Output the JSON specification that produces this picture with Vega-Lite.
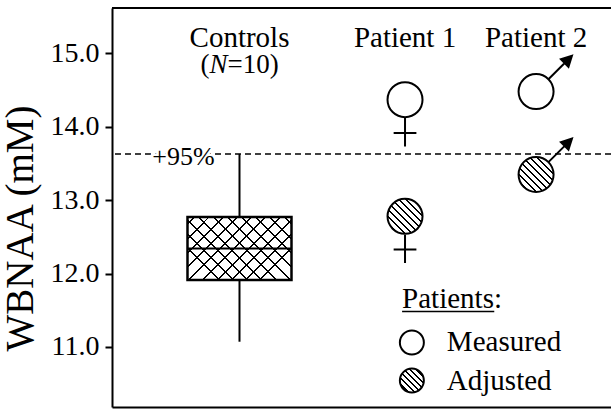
{
  "$schema": "https://vega.github.io/schema/vega-lite/v6.json",
  "width": 499,
  "height": 399,
  "autosize": "none",
  "padding": {"left": 112, "top": 8, "right": 0, "bottom": 2},
  "background": "white",
  "config": {
    "view": {"stroke": null},
    "style": {"ser": {"font": "Times New Roman"}},
    "axis": {"grid": false, "domainColor": "black", "domainWidth": 2, "tickColor": "black", "labelColor": "black", "titleColor": "black", "labelFont": "Times New Roman", "titleFont": "Times New Roman", "titleFontWeight": "normal"},
    "axisY": {"labelFontSize": 28, "tickSize": 7, "tickWidth": 2, "labelPadding": 6, "titleFontSize": 39, "titlePadding": 10, "titleY": 220},
    "axisX": {"labels": false, "ticks": false}
  },
  "datasets": {
    "controls": [{"group": "Controls", "x": 2.505, "lower": 11.07, "q1": 11.91, "median": 12.34, "q3": 12.77, "upper": 13.63}],
    "patients": [
      {"group": "Patient 1", "x": 5.89, "sex": "F", "kind": "Measured", "wbnaa": 14.37},
      {"group": "Patient 1", "x": 5.89, "sex": "F", "kind": "Adjusted", "wbnaa": 12.78},
      {"group": "Patient 2", "x": 8.57, "sex": "M", "kind": "Measured", "wbnaa": 14.48},
      {"group": "Patient 2", "x": 8.57, "sex": "M", "kind": "Adjusted", "wbnaa": 13.35}
    ],
    "titles": [
      {"text": "Controls", "x": 2.505, "y": 15.09},
      {"text": "Patient 1", "x": 5.89, "y": 15.09},
      {"text": "Patient 2", "x": 8.57, "y": 15.09}
    ],
    "subtitle": [{"x": 2.505, "y": 14.735}],
    "legendtitle": [{"text": "Patients:", "x": 5.83, "x2": 7.715, "y": 11.524}],
    "legend": [
      {"kind": "Measured", "x": 6.03, "y": 11.06},
      {"kind": "Adjusted", "x": 6.03, "y": 10.54}
    ]
  },
  "layer": [
    {
      "data": {"name": "controls"},
      "mark": {"type": "rule", "color": "black", "strokeWidth": 2},
      "encoding": {"y": {"datum": 15.62, "type": "quantitative", "scale": {"domain": [10.18, 15.62], "nice": false, "zero": false}, "title": "WBNAA (mM)"}}
    },
    {
      "data": {"name": "controls"},
      "mark": {"type": "rule", "color": "black", "strokeWidth": 1.5, "strokeDash": [6, 4]},
      "encoding": {"y": {"field": "upper", "type": "quantitative", "scale": {"domain": [10.18, 15.62], "nice": false, "zero": false}, "title": "WBNAA (mM)", "axis": {"values": [11, 12, 13, 14, 15], "format": ".1f"}}}
    },
    {
      "data": {"name": "controls"},
      "mark": {"type": "rule", "color": "black", "strokeWidth": 2},
      "encoding": {
        "x": {"field": "x", "type": "quantitative", "scale": {"domain": [0, 10], "nice": false, "zero": false}, "title": null},
        "y": {"field": "lower", "type": "quantitative", "scale": {"domain": [10.18, 15.62], "nice": false, "zero": false}, "title": "WBNAA (mM)"},
        "y2": {"field": "upper"}
      }
    },
    {
      "data": {"name": "controls"},
      "mark": {"type": "bar", "width": 104, "fill": "white", "stroke": null},
      "encoding": {
        "x": {"field": "x", "type": "quantitative", "scale": {"domain": [0, 10], "nice": false, "zero": false}, "title": null},
        "y": {"field": "q1", "type": "quantitative", "scale": {"domain": [10.18, 15.62], "nice": false, "zero": false}, "title": "WBNAA (mM)"},
        "y2": {"field": "q3"}
      }
    },
    {
      "data": {"name": "controls"},
      "mark": {"type": "bar", "width": 104, "stroke": null, "fill": {"gradient": "linear", "x1": 0, "y1": 0, "x2": 1, "y2": 0.606, "stops": [
        {"offset": 0, "color": "rgba(0,0,0,0)"},
        {"offset": 0.044, "color": "rgba(0,0,0,0)"}, {"offset": 0.044, "color": "black"}, {"offset": 0.058, "color": "black"}, {"offset": 0.058, "color": "rgba(0,0,0,0)"},
        {"offset": 0.144, "color": "rgba(0,0,0,0)"}, {"offset": 0.144, "color": "black"}, {"offset": 0.158, "color": "black"}, {"offset": 0.158, "color": "rgba(0,0,0,0)"},
        {"offset": 0.244, "color": "rgba(0,0,0,0)"}, {"offset": 0.244, "color": "black"}, {"offset": 0.258, "color": "black"}, {"offset": 0.258, "color": "rgba(0,0,0,0)"},
        {"offset": 0.344, "color": "rgba(0,0,0,0)"}, {"offset": 0.344, "color": "black"}, {"offset": 0.358, "color": "black"}, {"offset": 0.358, "color": "rgba(0,0,0,0)"},
        {"offset": 0.444, "color": "rgba(0,0,0,0)"}, {"offset": 0.444, "color": "black"}, {"offset": 0.458, "color": "black"}, {"offset": 0.458, "color": "rgba(0,0,0,0)"},
        {"offset": 0.544, "color": "rgba(0,0,0,0)"}, {"offset": 0.544, "color": "black"}, {"offset": 0.558, "color": "black"}, {"offset": 0.558, "color": "rgba(0,0,0,0)"},
        {"offset": 0.644, "color": "rgba(0,0,0,0)"}, {"offset": 0.644, "color": "black"}, {"offset": 0.658, "color": "black"}, {"offset": 0.658, "color": "rgba(0,0,0,0)"},
        {"offset": 0.744, "color": "rgba(0,0,0,0)"}, {"offset": 0.744, "color": "black"}, {"offset": 0.758, "color": "black"}, {"offset": 0.758, "color": "rgba(0,0,0,0)"},
        {"offset": 0.844, "color": "rgba(0,0,0,0)"}, {"offset": 0.844, "color": "black"}, {"offset": 0.858, "color": "black"}, {"offset": 0.858, "color": "rgba(0,0,0,0)"},
        {"offset": 0.944, "color": "rgba(0,0,0,0)"}, {"offset": 0.944, "color": "black"}, {"offset": 0.958, "color": "black"}, {"offset": 0.958, "color": "rgba(0,0,0,0)"},
        {"offset": 1, "color": "rgba(0,0,0,0)"}
      ]}},
      "encoding": {
        "x": {"field": "x", "type": "quantitative", "scale": {"domain": [0, 10], "nice": false, "zero": false}, "title": null},
        "y": {"field": "q1", "type": "quantitative", "scale": {"domain": [10.18, 15.62], "nice": false, "zero": false}, "title": "WBNAA (mM)"},
        "y2": {"field": "q3"}
      }
    },
    {
      "data": {"name": "controls"},
      "mark": {"type": "bar", "width": 104, "stroke": null, "fill": {"gradient": "linear", "x1": 1, "y1": 0, "x2": 0, "y2": 0.606, "stops": [
        {"offset": 0, "color": "rgba(0,0,0,0)"},
        {"offset": 0.044, "color": "rgba(0,0,0,0)"}, {"offset": 0.044, "color": "black"}, {"offset": 0.058, "color": "black"}, {"offset": 0.058, "color": "rgba(0,0,0,0)"},
        {"offset": 0.144, "color": "rgba(0,0,0,0)"}, {"offset": 0.144, "color": "black"}, {"offset": 0.158, "color": "black"}, {"offset": 0.158, "color": "rgba(0,0,0,0)"},
        {"offset": 0.244, "color": "rgba(0,0,0,0)"}, {"offset": 0.244, "color": "black"}, {"offset": 0.258, "color": "black"}, {"offset": 0.258, "color": "rgba(0,0,0,0)"},
        {"offset": 0.344, "color": "rgba(0,0,0,0)"}, {"offset": 0.344, "color": "black"}, {"offset": 0.358, "color": "black"}, {"offset": 0.358, "color": "rgba(0,0,0,0)"},
        {"offset": 0.444, "color": "rgba(0,0,0,0)"}, {"offset": 0.444, "color": "black"}, {"offset": 0.458, "color": "black"}, {"offset": 0.458, "color": "rgba(0,0,0,0)"},
        {"offset": 0.544, "color": "rgba(0,0,0,0)"}, {"offset": 0.544, "color": "black"}, {"offset": 0.558, "color": "black"}, {"offset": 0.558, "color": "rgba(0,0,0,0)"},
        {"offset": 0.644, "color": "rgba(0,0,0,0)"}, {"offset": 0.644, "color": "black"}, {"offset": 0.658, "color": "black"}, {"offset": 0.658, "color": "rgba(0,0,0,0)"},
        {"offset": 0.744, "color": "rgba(0,0,0,0)"}, {"offset": 0.744, "color": "black"}, {"offset": 0.758, "color": "black"}, {"offset": 0.758, "color": "rgba(0,0,0,0)"},
        {"offset": 0.844, "color": "rgba(0,0,0,0)"}, {"offset": 0.844, "color": "black"}, {"offset": 0.858, "color": "black"}, {"offset": 0.858, "color": "rgba(0,0,0,0)"},
        {"offset": 0.944, "color": "rgba(0,0,0,0)"}, {"offset": 0.944, "color": "black"}, {"offset": 0.958, "color": "black"}, {"offset": 0.958, "color": "rgba(0,0,0,0)"},
        {"offset": 1, "color": "rgba(0,0,0,0)"}
      ]}},
      "encoding": {
        "x": {"field": "x", "type": "quantitative", "scale": {"domain": [0, 10], "nice": false, "zero": false}, "title": null},
        "y": {"field": "q1", "type": "quantitative", "scale": {"domain": [10.18, 15.62], "nice": false, "zero": false}, "title": "WBNAA (mM)"},
        "y2": {"field": "q3"}
      }
    },
    {
      "data": {"name": "controls"},
      "mark": {"type": "bar", "width": 104, "fill": "white", "fillOpacity": 0, "stroke": "black", "strokeWidth": 2.5},
      "encoding": {
        "x": {"field": "x", "type": "quantitative", "scale": {"domain": [0, 10], "nice": false, "zero": false}, "title": null},
        "y": {"field": "q1", "type": "quantitative", "scale": {"domain": [10.18, 15.62], "nice": false, "zero": false}, "title": "WBNAA (mM)"},
        "y2": {"field": "q3"}
      }
    },
    {
      "data": {"name": "controls"},
      "mark": {"type": "tick", "orient": "horizontal", "size": 104, "thickness": 2, "color": "black", "opacity": 1},
      "encoding": {
        "x": {"field": "x", "type": "quantitative", "scale": {"domain": [0, 10], "nice": false, "zero": false}, "title": null},
        "y": {"field": "median", "type": "quantitative", "scale": {"domain": [10.18, 15.62], "nice": false, "zero": false}, "title": "WBNAA (mM)"}
      }
    },
    {
      "data": {"name": "controls"},
      "mark": {"type": "text", "style": "ser", "text": "+95%", "fontSize": 26, "font": "Times New Roman", "fill": "white", "stroke": "white", "strokeWidth": 5, "baseline": "alphabetic", "dy": 11},
      "encoding": {
        "x": {"datum": 1.36, "type": "quantitative", "scale": {"domain": [0, 10], "nice": false, "zero": false}, "title": null},
        "y": {"field": "upper", "type": "quantitative", "scale": {"domain": [10.18, 15.62], "nice": false, "zero": false}, "title": "WBNAA (mM)"}
      }
    },
    {
      "data": {"name": "controls"},
      "mark": {"type": "text", "style": "ser", "text": "+95%", "fontSize": 26, "font": "Times New Roman", "color": "black", "baseline": "alphabetic", "dy": 11},
      "encoding": {
        "x": {"datum": 1.36, "type": "quantitative", "scale": {"domain": [0, 10], "nice": false, "zero": false}, "title": null},
        "y": {"field": "upper", "type": "quantitative", "scale": {"domain": [10.18, 15.62], "nice": false, "zero": false}, "title": "WBNAA (mM)"}
      }
    },
    {
      "data": {"name": "patients"},
      "mark": {"type": "point", "filled": true, "size": 1225, "color": "black", "stroke": "black", "strokeWidth": 2, "opacity": 1},
      "encoding": {
        "x": {"field": "x", "type": "quantitative", "scale": {"domain": [0, 10], "nice": false, "zero": false}, "title": null},
        "y": {"field": "wbnaa", "type": "quantitative", "scale": {"domain": [10.18, 15.62], "nice": false, "zero": false}, "title": "WBNAA (mM)"},
        "shape": {"field": "sex", "type": "nominal", "scale": {"domain": ["F", "M"], "range": ["M0,1.05L0,2.67M-0.65,1.9L0.65,1.9", "M0.72,-0.72L1.68,-1.68M2.05,-2.05L1.85,-1.42L1.42,-1.85Z"]}, "legend": null}
      }
    },
    {
      "data": {"name": "patients"},
      "transform": [{"filter": "datum.kind === 'Measured'"}],
      "mark": {"type": "point", "shape": "circle", "size": 1225, "fill": "white", "fillOpacity": 1, "stroke": "black", "strokeWidth": 2, "opacity": 1},
      "encoding": {
        "x": {"field": "x", "type": "quantitative", "scale": {"domain": [0, 10], "nice": false, "zero": false}, "title": null},
        "y": {"field": "wbnaa", "type": "quantitative", "scale": {"domain": [10.18, 15.62], "nice": false, "zero": false}, "title": "WBNAA (mM)"}
      }
    },
    {
      "data": {"name": "patients"},
      "transform": [{"filter": "datum.kind === 'Adjusted'"}],
      "mark": {"type": "point", "shape": "circle", "size": 1225, "fillOpacity": 1, "stroke": "black", "strokeWidth": 2, "opacity": 1, "fill": {"gradient": "linear", "x1": 1, "y1": 0, "x2": 0, "y2": 1, "stops": [
        {"offset": 0, "color": "white"},
        {"offset": 0.035, "color": "white"}, {"offset": 0.035, "color": "black"}, {"offset": 0.065, "color": "black"}, {"offset": 0.065, "color": "white"},
        {"offset": 0.135, "color": "white"}, {"offset": 0.135, "color": "black"}, {"offset": 0.165, "color": "black"}, {"offset": 0.165, "color": "white"},
        {"offset": 0.235, "color": "white"}, {"offset": 0.235, "color": "black"}, {"offset": 0.265, "color": "black"}, {"offset": 0.265, "color": "white"},
        {"offset": 0.335, "color": "white"}, {"offset": 0.335, "color": "black"}, {"offset": 0.365, "color": "black"}, {"offset": 0.365, "color": "white"},
        {"offset": 0.435, "color": "white"}, {"offset": 0.435, "color": "black"}, {"offset": 0.465, "color": "black"}, {"offset": 0.465, "color": "white"},
        {"offset": 0.535, "color": "white"}, {"offset": 0.535, "color": "black"}, {"offset": 0.565, "color": "black"}, {"offset": 0.565, "color": "white"},
        {"offset": 0.635, "color": "white"}, {"offset": 0.635, "color": "black"}, {"offset": 0.665, "color": "black"}, {"offset": 0.665, "color": "white"},
        {"offset": 0.735, "color": "white"}, {"offset": 0.735, "color": "black"}, {"offset": 0.765, "color": "black"}, {"offset": 0.765, "color": "white"},
        {"offset": 0.835, "color": "white"}, {"offset": 0.835, "color": "black"}, {"offset": 0.865, "color": "black"}, {"offset": 0.865, "color": "white"},
        {"offset": 0.935, "color": "white"}, {"offset": 0.935, "color": "black"}, {"offset": 0.965, "color": "black"}, {"offset": 0.965, "color": "white"},
        {"offset": 1, "color": "white"}
      ]}},
      "encoding": {
        "x": {"field": "x", "type": "quantitative", "scale": {"domain": [0, 10], "nice": false, "zero": false}, "title": null},
        "y": {"field": "wbnaa", "type": "quantitative", "scale": {"domain": [10.18, 15.62], "nice": false, "zero": false}, "title": "WBNAA (mM)"}
      }
    },
    {
      "data": {"name": "titles"},
      "mark": {"type": "text", "style": "ser", "fontSize": 29, "font": "Times New Roman", "color": "black", "baseline": "alphabetic", "align": "center"},
      "encoding": {
        "x": {"field": "x", "type": "quantitative", "scale": {"domain": [0, 10], "nice": false, "zero": false}, "title": null},
        "y": {"field": "y", "type": "quantitative", "scale": {"domain": [10.18, 15.62], "nice": false, "zero": false}, "title": "WBNAA (mM)"},
        "text": {"field": "text"}
      }
    },
    {
      "data": {"name": "subtitle"},
      "mark": {"type": "text", "style": "ser", "text": "(", "fontSize": 27, "font": "Times New Roman", "color": "black", "baseline": "alphabetic", "align": "left", "dx": -39},
      "encoding": {
        "x": {"field": "x", "type": "quantitative", "scale": {"domain": [0, 10], "nice": false, "zero": false}, "title": null},
        "y": {"field": "y", "type": "quantitative", "scale": {"domain": [10.18, 15.62], "nice": false, "zero": false}, "title": "WBNAA (mM)"}
      }
    },
    {
      "data": {"name": "subtitle"},
      "mark": {"type": "text", "style": "ser", "text": "N", "fontSize": 27, "font": "Times New Roman", "fontStyle": "italic", "color": "black", "baseline": "alphabetic", "align": "left", "dx": -30},
      "encoding": {
        "x": {"field": "x", "type": "quantitative", "scale": {"domain": [0, 10], "nice": false, "zero": false}, "title": null},
        "y": {"field": "y", "type": "quantitative", "scale": {"domain": [10.18, 15.62], "nice": false, "zero": false}, "title": "WBNAA (mM)"}
      }
    },
    {
      "data": {"name": "subtitle"},
      "mark": {"type": "text", "style": "ser", "text": "=10)", "fontSize": 27, "font": "Times New Roman", "color": "black", "baseline": "alphabetic", "align": "left", "dx": -12},
      "encoding": {
        "x": {"field": "x", "type": "quantitative", "scale": {"domain": [0, 10], "nice": false, "zero": false}, "title": null},
        "y": {"field": "y", "type": "quantitative", "scale": {"domain": [10.18, 15.62], "nice": false, "zero": false}, "title": "WBNAA (mM)"}
      }
    },
    {
      "data": {"name": "legendtitle"},
      "mark": {"type": "text", "style": "ser", "fontSize": 29, "font": "Times New Roman", "color": "black", "baseline": "alphabetic", "align": "left"},
      "encoding": {
        "x": {"field": "x", "type": "quantitative", "scale": {"domain": [0, 10], "nice": false, "zero": false}, "title": null},
        "y": {"field": "y", "type": "quantitative", "scale": {"domain": [10.18, 15.62], "nice": false, "zero": false}, "title": "WBNAA (mM)"},
        "text": {"field": "text"}
      }
    },
    {
      "data": {"name": "legendtitle"},
      "mark": {"type": "rule", "color": "black", "strokeWidth": 1.5, "yOffset": 3},
      "encoding": {
        "x": {"field": "x", "type": "quantitative", "scale": {"domain": [0, 10], "nice": false, "zero": false}, "title": null},
        "x2": {"field": "x2"},
        "y": {"field": "y", "type": "quantitative", "scale": {"domain": [10.18, 15.62], "nice": false, "zero": false}, "title": "WBNAA (mM)"}
      }
    },
    {
      "data": {"name": "legend"},
      "transform": [{"filter": "datum.kind === 'Measured'"}],
      "mark": {"type": "point", "shape": "circle", "size": 576, "fill": "white", "fillOpacity": 1, "stroke": "black", "strokeWidth": 2, "opacity": 1},
      "encoding": {
        "x": {"field": "x", "type": "quantitative", "scale": {"domain": [0, 10], "nice": false, "zero": false}, "title": null},
        "y": {"field": "y", "type": "quantitative", "scale": {"domain": [10.18, 15.62], "nice": false, "zero": false}, "title": "WBNAA (mM)"}
      }
    },
    {
      "data": {"name": "legend"},
      "transform": [{"filter": "datum.kind === 'Adjusted'"}],
      "mark": {"type": "point", "shape": "circle", "size": 576, "fillOpacity": 1, "stroke": "black", "strokeWidth": 2, "opacity": 1, "fill": {"gradient": "linear", "x1": 1, "y1": 0, "x2": 0, "y2": 1, "stops": [
        {"offset": 0, "color": "white"},
        {"offset": 0.044, "color": "white"}, {"offset": 0.044, "color": "black"}, {"offset": 0.081, "color": "black"}, {"offset": 0.081, "color": "white"},
        {"offset": 0.169, "color": "white"}, {"offset": 0.169, "color": "black"}, {"offset": 0.206, "color": "black"}, {"offset": 0.206, "color": "white"},
        {"offset": 0.294, "color": "white"}, {"offset": 0.294, "color": "black"}, {"offset": 0.331, "color": "black"}, {"offset": 0.331, "color": "white"},
        {"offset": 0.419, "color": "white"}, {"offset": 0.419, "color": "black"}, {"offset": 0.456, "color": "black"}, {"offset": 0.456, "color": "white"},
        {"offset": 0.544, "color": "white"}, {"offset": 0.544, "color": "black"}, {"offset": 0.581, "color": "black"}, {"offset": 0.581, "color": "white"},
        {"offset": 0.669, "color": "white"}, {"offset": 0.669, "color": "black"}, {"offset": 0.706, "color": "black"}, {"offset": 0.706, "color": "white"},
        {"offset": 0.794, "color": "white"}, {"offset": 0.794, "color": "black"}, {"offset": 0.831, "color": "black"}, {"offset": 0.831, "color": "white"},
        {"offset": 0.919, "color": "white"}, {"offset": 0.919, "color": "black"}, {"offset": 0.956, "color": "black"}, {"offset": 0.956, "color": "white"},
        {"offset": 1, "color": "white"}
      ]}},
      "encoding": {
        "x": {"field": "x", "type": "quantitative", "scale": {"domain": [0, 10], "nice": false, "zero": false}, "title": null},
        "y": {"field": "y", "type": "quantitative", "scale": {"domain": [10.18, 15.62], "nice": false, "zero": false}, "title": "WBNAA (mM)"}
      }
    },
    {
      "data": {"name": "legend"},
      "mark": {"type": "text", "style": "ser", "fontSize": 29, "font": "Times New Roman", "color": "black", "baseline": "middle", "align": "left", "dx": 35},
      "encoding": {
        "x": {"field": "x", "type": "quantitative", "scale": {"domain": [0, 10], "nice": false, "zero": false}, "title": null},
        "y": {"field": "y", "type": "quantitative", "scale": {"domain": [10.18, 15.62], "nice": false, "zero": false}, "title": "WBNAA (mM)"},
        "text": {"field": "kind"}
      }
    }
  ]
}
